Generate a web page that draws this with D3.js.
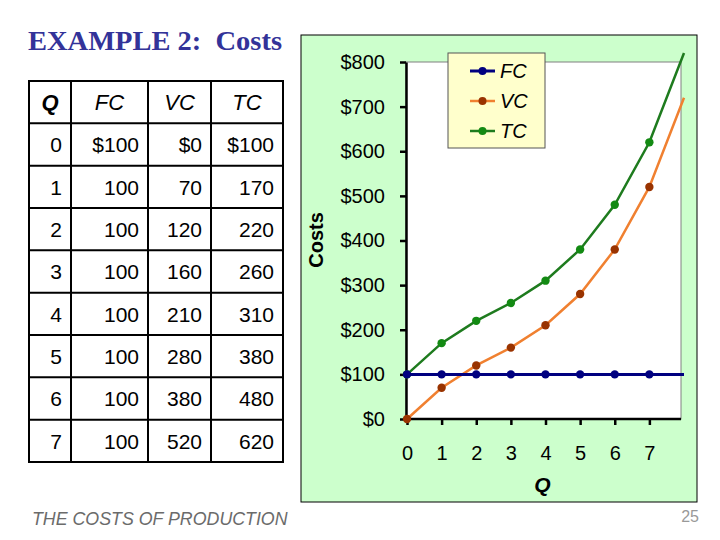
<!DOCTYPE html>
<html>
<head>
<meta charset="utf-8">
<script src="https://cdn.jsdelivr.net/npm/d3@7"></script>
<style>
	body { margin: 0; background: #ffffff; }
	svg { display: block; }
</style>
</head>
<body>
<div id="slide"></div>
<script>
"use strict"

// values
var quantities = [0, 1, 2, 3, 4, 5, 6, 7, 8];
var fixedCost  = [100, 100, 100, 100, 100, 100, 100, 100, 100];
var varCost    = [0, 70, 120, 160, 210, 280, 380, 520, 720];
var totalCost  = [100, 170, 220, 260, 310, 380, 480, 620, 820];
var tableRows  = 8;   // Q = 0..7 are in the table and carry markers
var yTicks     = [0, 100, 200, 300, 400, 500, 600, 700, 800];
var xTicks     = [0, 1, 2, 3, 4, 5, 6, 7];
var headers    = ["Q", "FC", "VC", "TC"];

var W = 720, H = 540;
var svg = d3.select("#slide").append("svg")
	.attr("width", W)
	.attr("height", H)
	;

// title
svg.append("text")
	.attr("x", 28)
	.attr("y", 50)
	.attr("textLength", 254)
	.attr("lengthAdjust", "spacingAndGlyphs")
	.style("font-family", "'Liberation Serif', 'Times New Roman', serif")
	.style("font-weight", "bold")
	.style("font-size", "27.5px")
	.attr("fill", "#333399")
	.text("EXAMPLE 2:\u00a0 Costs")
	;

//
// table
//
var colX = [29, 71, 148, 211, 283];
var rowTop = 81, rowH = 42.33;
var gTable = svg.append("g").attr("id", "gTable");
var cells = [];
headers.forEach(function(h, c) {
	cells.push({row: 0, col: c, text: h, head: true});
});
for (var i = 0; i < tableRows; i++) {
	var pre = (i == 0) ? "$" : "";
	cells.push({row: i + 1, col: 0, text: String(quantities[i])});
	cells.push({row: i + 1, col: 1, text: pre + fixedCost[i]});
	cells.push({row: i + 1, col: 2, text: pre + varCost[i]});
	cells.push({row: i + 1, col: 3, text: pre + totalCost[i]});
}
gTable.selectAll("text.cell")
	.data(cells)
	.enter().append("text").attr("class", "cell")
	.attr("x", function(d) { return d.head ? (colX[d.col] + colX[d.col + 1]) / 2 : colX[d.col + 1] - 9; })
	.attr("y", function(d) { return rowTop + rowH * d.row + rowH / 2 + 8; })
	.attr("text-anchor", function(d) { return d.head ? "middle" : "end"; })
	.style("font-family", "Arial, 'Liberation Sans', sans-serif")
	.style("font-size", function(d) { return d.head ? "22px" : "21px"; })
	.style("font-style", function(d) { return d.head ? "italic" : "normal"; })
	.style("font-weight", function(d) { return (d.head && d.col == 0) ? "bold" : "normal"; })
	.attr("fill", "#000")
	.text(function(d) { return d.text; })
	;
var nRows = tableRows + 1;
for (var r = 0; r <= nRows; r++) {
	gTable.append("line")
		.attr("x1", colX[0] - 1).attr("x2", colX[colX.length - 1] + 1)
		.attr("y1", rowTop + rowH * r).attr("y2", rowTop + rowH * r)
		.attr("stroke", "#000").attr("stroke-width", 2)
		;
}
colX.forEach(function(x) {
	gTable.append("line")
		.attr("x1", x).attr("x2", x)
		.attr("y1", rowTop).attr("y2", rowTop + rowH * nRows)
		.attr("stroke", "#000").attr("stroke-width", 2)
		;
});

//
// chart
//
svg.append("rect")
	.attr("x", 301).attr("y", 35)
	.attr("width", 396).attr("height", 467)
	.attr("fill", "#ccffcc")
	.attr("stroke", "#000").attr("stroke-width", 1)
	;

var plot = {left: 406, top: 62, right: 681, bottom: 419};
var x = d3.scaleLinear().domain([0, 8]).range([407, 684]);
var y = d3.scaleLinear().domain([0, 800]).range([plot.bottom, plot.top]);

svg.append("rect")
	.attr("x", plot.left).attr("y", plot.top)
	.attr("width", plot.right - plot.left)
	.attr("height", plot.bottom - plot.top)
	.attr("fill", "#ffffff")
	.attr("stroke", "#808080").attr("stroke-width", 1)
	;

var axisFont = "Arial, 'Liberation Sans', sans-serif";
var gy = svg.append("g")
	.attr("transform", "translate(" + plot.left + ",0)")
	.call(d3.axisLeft(y).tickValues(yTicks).tickSize(6).tickSizeOuter(0).tickPadding(15)
		.tickFormat(function(d) { return "$" + d; }))
	;
var gx = svg.append("g")
	.attr("transform", "translate(0," + plot.bottom + ")")
	.call(d3.axisBottom(x).tickValues(xTicks).tickSize(6).tickSizeOuter(0).tickPadding(21)
		.tickFormat(d3.format("d")))
	;
gx.select(".domain").attr("d", "M" + plot.left + ",0H" + plot.right);
[gx, gy].forEach(function(g) {
	g.selectAll(".domain").attr("stroke", "#000").attr("stroke-width", 2.5);
	g.selectAll(".tick line").attr("stroke", "#000").attr("stroke-width", 2.5);
	g.selectAll(".tick text")
		.style("font-family", axisFont)
		.style("font-size", "20px")
		.attr("fill", "#000")
		;
});

svg.append("text")
	.attr("x", x(4) - 3)
	.attr("y", 492)
	.attr("text-anchor", "middle")
	.style("font-family", axisFont)
	.style("font-size", "21px")
	.style("font-weight", "bold")
	.style("font-style", "italic")
	.text("Q")
	;
svg.append("text")
	.attr("transform", "translate(323,240) rotate(-90)")
	.attr("text-anchor", "middle")
	.style("font-family", axisFont)
	.style("font-size", "20px")
	.style("font-weight", "bold")
	.text("Costs")
	;

var series = [
	{name: "FC", values: fixedCost, line: "#000080", dot: "#000080", width: 3},
	{name: "VC", values: varCost,   line: "#f08030", dot: "#993300", width: 2.5},
	{name: "TC", values: totalCost, line: "#1e7b1e", dot: "#138a13", width: 2.5}
];
var lineGen = d3.line()
	.x(function(d, i) { return x(quantities[i]); })
	.y(function(d) { return y(d); })
	;
// draw TC first so FC sits on top, as on the slide
series.slice().reverse().forEach(function(s) {
	var g = svg.append("g").attr("class", "series" + s.name);
	g.append("path")
		.attr("d", lineGen(s.values))
		.attr("fill", "none")
		.attr("stroke", s.line)
		.attr("stroke-width", s.width)
		;
	g.selectAll("circle")
		.data(s.values.slice(0, tableRows))
		.enter().append("circle")
		.attr("cx", function(d, i) { return x(quantities[i]); })
		.attr("cy", function(d) { return y(d); })
		.attr("r", 4.2)
		.attr("fill", s.dot)
		;
});

// legend
var gLeg = svg.append("g").attr("transform", "translate(448,53)");
gLeg.append("rect")
	.attr("width", 97).attr("height", 95)
	.attr("fill", "#ffffcc")
	.attr("stroke", "#555").attr("stroke-width", 1)
	;
series.forEach(function(s, i) {
	var cy = 18 + i * 30;
	gLeg.append("line")
		.attr("x1", 22).attr("x2", 47)
		.attr("y1", cy).attr("y2", cy)
		.attr("stroke", s.line).attr("stroke-width", s.width)
		;
	gLeg.append("circle")
		.attr("cx", 34.5).attr("cy", cy).attr("r", 4)
		.attr("fill", s.dot)
		;
	gLeg.append("text")
		.attr("x", 52).attr("y", cy + 7)
		.style("font-family", axisFont)
		.style("font-size", "20px")
		.style("font-style", "italic")
		.text(s.name)
		;
});

// footer
svg.append("text")
	.attr("x", 32)
	.attr("y", 525)
	.style("font-family", axisFont)
	.style("font-size", "17.8px")
	.style("font-style", "italic")
	.attr("fill", "#6b6b6b")
	.text("THE COSTS OF PRODUCTION")
	;
svg.append("text")
	.attr("x", 699)
	.attr("y", 522)
	.attr("text-anchor", "end")
	.style("font-family", axisFont)
	.style("font-size", "16px")
	.attr("fill", "#999")
	.text("25")
	;
</script>
</body>
</html>
